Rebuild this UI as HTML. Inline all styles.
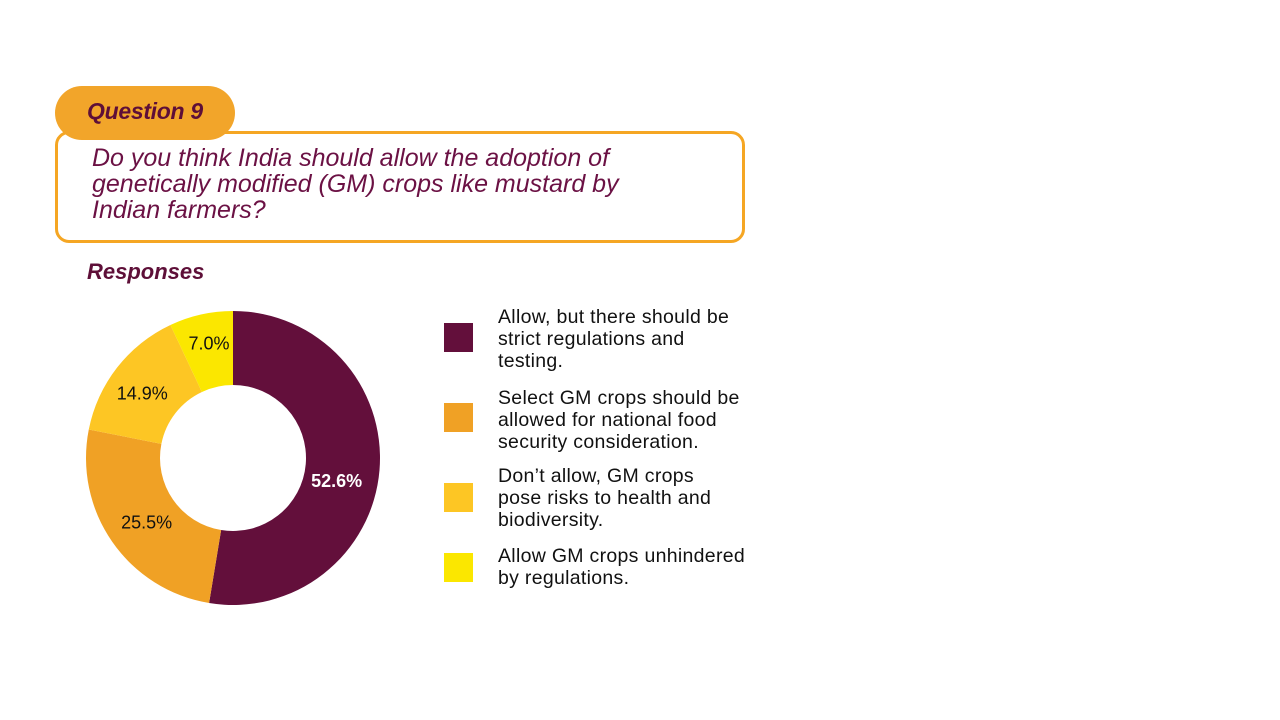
<!DOCTYPE html>
<html><head><meta charset="utf-8"><style>
body{margin:0;width:1280px;height:720px;background:#fff;position:relative;overflow:hidden;font-family:"Liberation Sans",sans-serif}
.pill{position:absolute;left:55px;top:86px;width:180px;height:54px;background:#f2a52a;border-radius:27px;z-index:2}
.pill span{position:absolute;left:32px;top:12px;font-size:23px;font-weight:bold;font-style:italic;color:#5e0f38;letter-spacing:-0.3px}
.qbox{position:absolute;left:55px;top:131px;width:684px;height:106px;border:3px solid #f5a623;border-radius:14px;z-index:1}
.qtext{position:absolute;left:92px;top:145px;font-size:25px;font-style:italic;color:#6b1144;line-height:26px;letter-spacing:0px;z-index:3}
.resp{position:absolute;left:87px;top:259px;font-size:22px;font-weight:bold;font-style:italic;color:#5e0f38}
.leg{position:absolute;left:444px;width:29px;height:29px}
.lt{position:absolute;left:498px;font-size:19.5px;line-height:22px;color:#111;letter-spacing:0.3px}
</style></head><body>
<div class="pill"><span>Question 9</span></div>
<div class="qbox"></div>
<div class="qtext">Do you think India should allow the adoption of<br>genetically modified (GM) crops like mustard by<br>Indian farmers?</div>
<div class="resp">Responses</div>
<svg id="chart" width="1280" height="720" style="position:absolute;left:0;top:0"></svg>
<div class="leg" style="top:323px;background:#630f3b"></div>
<div class="lt" style="top:306px">Allow, but there should be<br>strict regulations and<br>testing.</div>
<div class="leg" style="top:403px;background:#f0a125"></div>
<div class="lt" style="top:387px">Select GM crops should be<br>allowed for national food<br>security consideration.</div>
<div class="leg" style="top:483px;background:#fdc624"></div>
<div class="lt" style="top:465px">Don’t allow, GM crops<br>pose risks to health and<br>biodiversity.</div>
<div class="leg" style="top:553px;background:#fbe700"></div>
<div class="lt" style="top:545px">Allow GM crops unhindered<br>by regulations.</div>
<script>
const categories=["Allow with regulations","Select GM crops","Don't allow","Allow unhindered"];
const values=[52.6,25.5,14.9,7.0];
const labels=["52.6%","25.5%","14.9%","7.0%"];
const colors=["#630f3b","#f0a125","#fdc624","#fbe700"];
const svg=document.getElementById('chart');
const cx=233,cy=458,R=147,r=73,NS='http://www.w3.org/2000/svg';
const total=values.reduce((a,b)=>a+b,0);
function pt(a,rad){return [cx+rad*Math.sin(a),cy-rad*Math.cos(a)];}
let a0=0;
values.forEach((v,i)=>{
 const a1=a0+v/total*2*Math.PI;
 const lg=(a1-a0)>Math.PI?1:0;
 const p1=pt(a0,R),p2=pt(a1,R),p3=pt(a1,r),p4=pt(a0,r);
 const p=document.createElementNS(NS,'path');
 p.setAttribute('d',`M${p1[0]},${p1[1]}A${R},${R} 0 ${lg} 1 ${p2[0]},${p2[1]}L${p3[0]},${p3[1]}A${r},${r} 0 ${lg} 0 ${p4[0]},${p4[1]}Z`);
 p.setAttribute('fill',colors[i]);
 
 
 svg.appendChild(p);
 const m=(a0+a1)/2,lp=pt(m,(R+r)/2);
 const dx=[-6,4,-4,0][i],dy=[13,1,2,-8][i];
 const t=document.createElementNS(NS,'text');
 t.setAttribute('x',lp[0]+dx);t.setAttribute('y',lp[1]+7+dy);
 t.setAttribute('text-anchor','middle');
 t.setAttribute('font-size','18');
 t.setAttribute('font-family','Liberation Sans, sans-serif');
 t.setAttribute('fill',i==0?'#fff':'#111');
 if(i==0)t.setAttribute('font-weight','bold');
 t.textContent=labels[i];
 
 
 svg.appendChild(t);
 a0=a1;
});
</script>
</body></html>
